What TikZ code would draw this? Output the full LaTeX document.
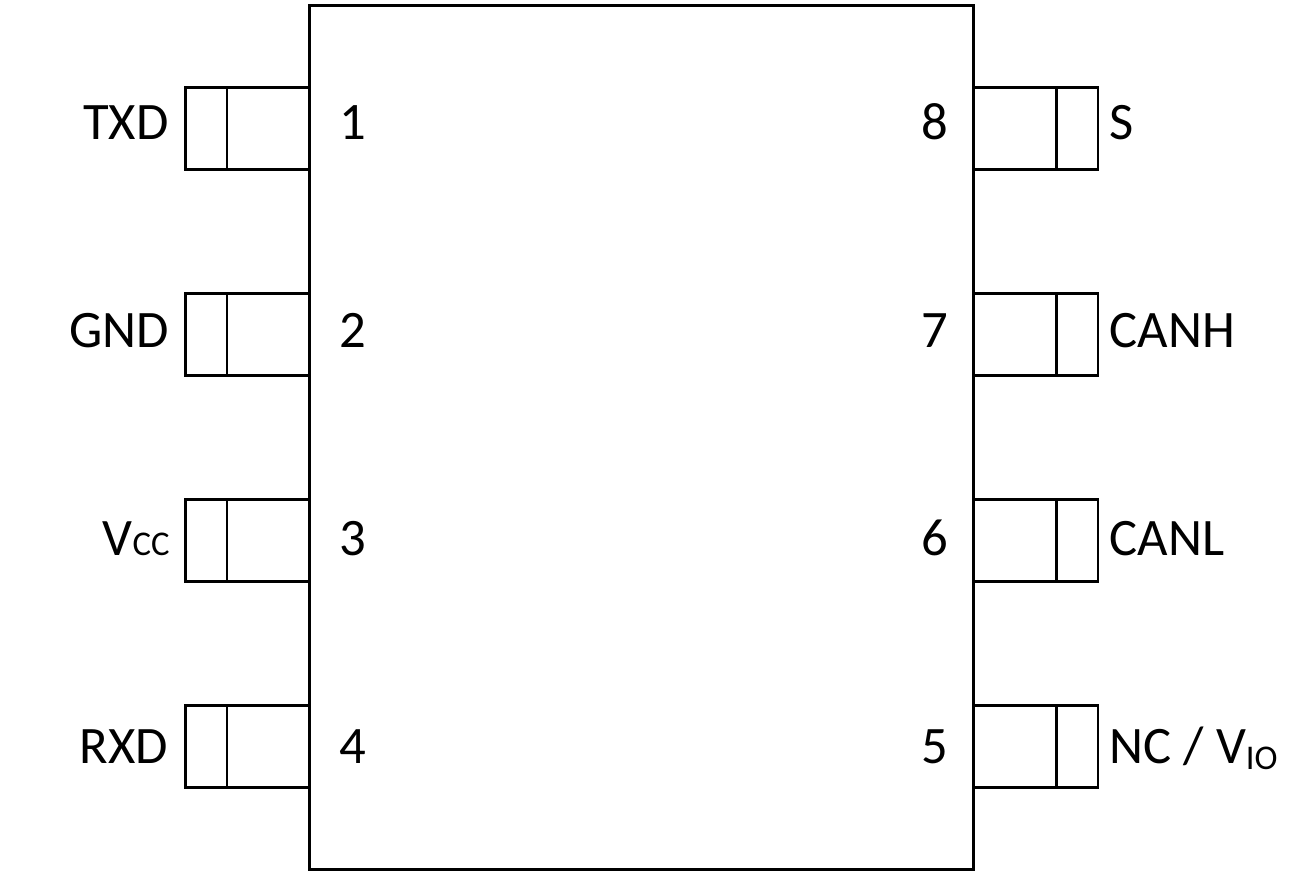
\documentclass[tikz,border=0pt]{standalone}
\usepackage{fontspec}
\setmainfont{Carlito}
\begin{document}
\begin{tikzpicture}[x=0.75pt,y=0.75pt,yscale=-1,xscale=1,line width=2pt,
    pinlabel/.style={font=\fontsize{39.5}{44}\selectfont,inner sep=0pt}]
        \useasboundingbox (0,0) rectangle (1311,878);
        %Package body
        \node [draw,outer sep=0pt,minimum width=498pt,minimum height=648pt,inner sep=0pt] (body) at (641.5,437.5) {};
        % left pins
        \foreach \name/\ypos in {one/128.5,two/334.5,three/540.5,four/746.5}{
            \coordinate (\name a) at (185.5,\ypos-41);
            \coordinate (\name b) at (185.5,\ypos+41);
            \coordinate (\name c) at (body.west |- \name a);
            \coordinate (\name d) at (body.west |- \name b);
            \coordinate (\name e) at (227,\ypos-41);
            \coordinate (\name f) at (227,\ypos+41);
            \draw (\name c) -- (\name a) -- (\name b) -- (\name d);
            \draw (\name e) -- (\name f);
        }
        % right pins
        \foreach \name/\ypos in {eight/128.5,seven/334.5,six/540.5,five/746.5}{
            \coordinate (\name a) at (1098,\ypos-41);
            \coordinate (\name b) at (1098,\ypos+41);
            \coordinate (\name c) at (body.east |- \name a);
            \coordinate (\name d) at (body.east |- \name b);
            \coordinate (\name e) at (1056.5,\ypos-41);
            \coordinate (\name f) at (1056.5,\ypos+41);
            \draw (\name c) -- (\name a) -- (\name b) -- (\name d);
            \draw (\name e) -- (\name f);
        }
        % Numbers
        \node [pinlabel,anchor=base] (n1) at (353,139) {1};
        \node [pinlabel,anchor=base] (n2) at (353,347) {2};
        \node [pinlabel,anchor=base] (n3) at (353,555) {3};
        \node [pinlabel,anchor=base] (n4) at (353,763) {4};
        \node [pinlabel,anchor=base] (n8) at (935,139) {8};
        \node [pinlabel,anchor=base] (n7) at (935,347) {7};
        \node [pinlabel,anchor=base] (n6) at (935,555) {6};
        \node [pinlabel,anchor=base] (n5) at (935,763) {5};
        % Names
        \node [pinlabel,anchor=base east] (txd) at (170,139) {TXD};
        \node [pinlabel,anchor=base east] (gnd) at (170.5,347) {GND};
        \node [pinlabel,anchor=base east] (vcc) at (171,555) {V{\fontsize{26}{30}\selectfont CC}};
        \node [pinlabel,anchor=base east] (rxd) at (169.5,763) {RXD};
        \node [pinlabel,anchor=base west] (s) at (1108.5,139) {S};
        \node [pinlabel,anchor=base west] (canh) at (1108.5,347) {CANH};
        \node [pinlabel,anchor=base west] (canl) at (1108.5,555) {CANL};
        \node [pinlabel,anchor=base west] (nc) at (1108.5,763) {NC / V{\fontsize{26}{30}\selectfont\raisebox{-5pt}{IO}}};
    \end{tikzpicture}
\end{document}
